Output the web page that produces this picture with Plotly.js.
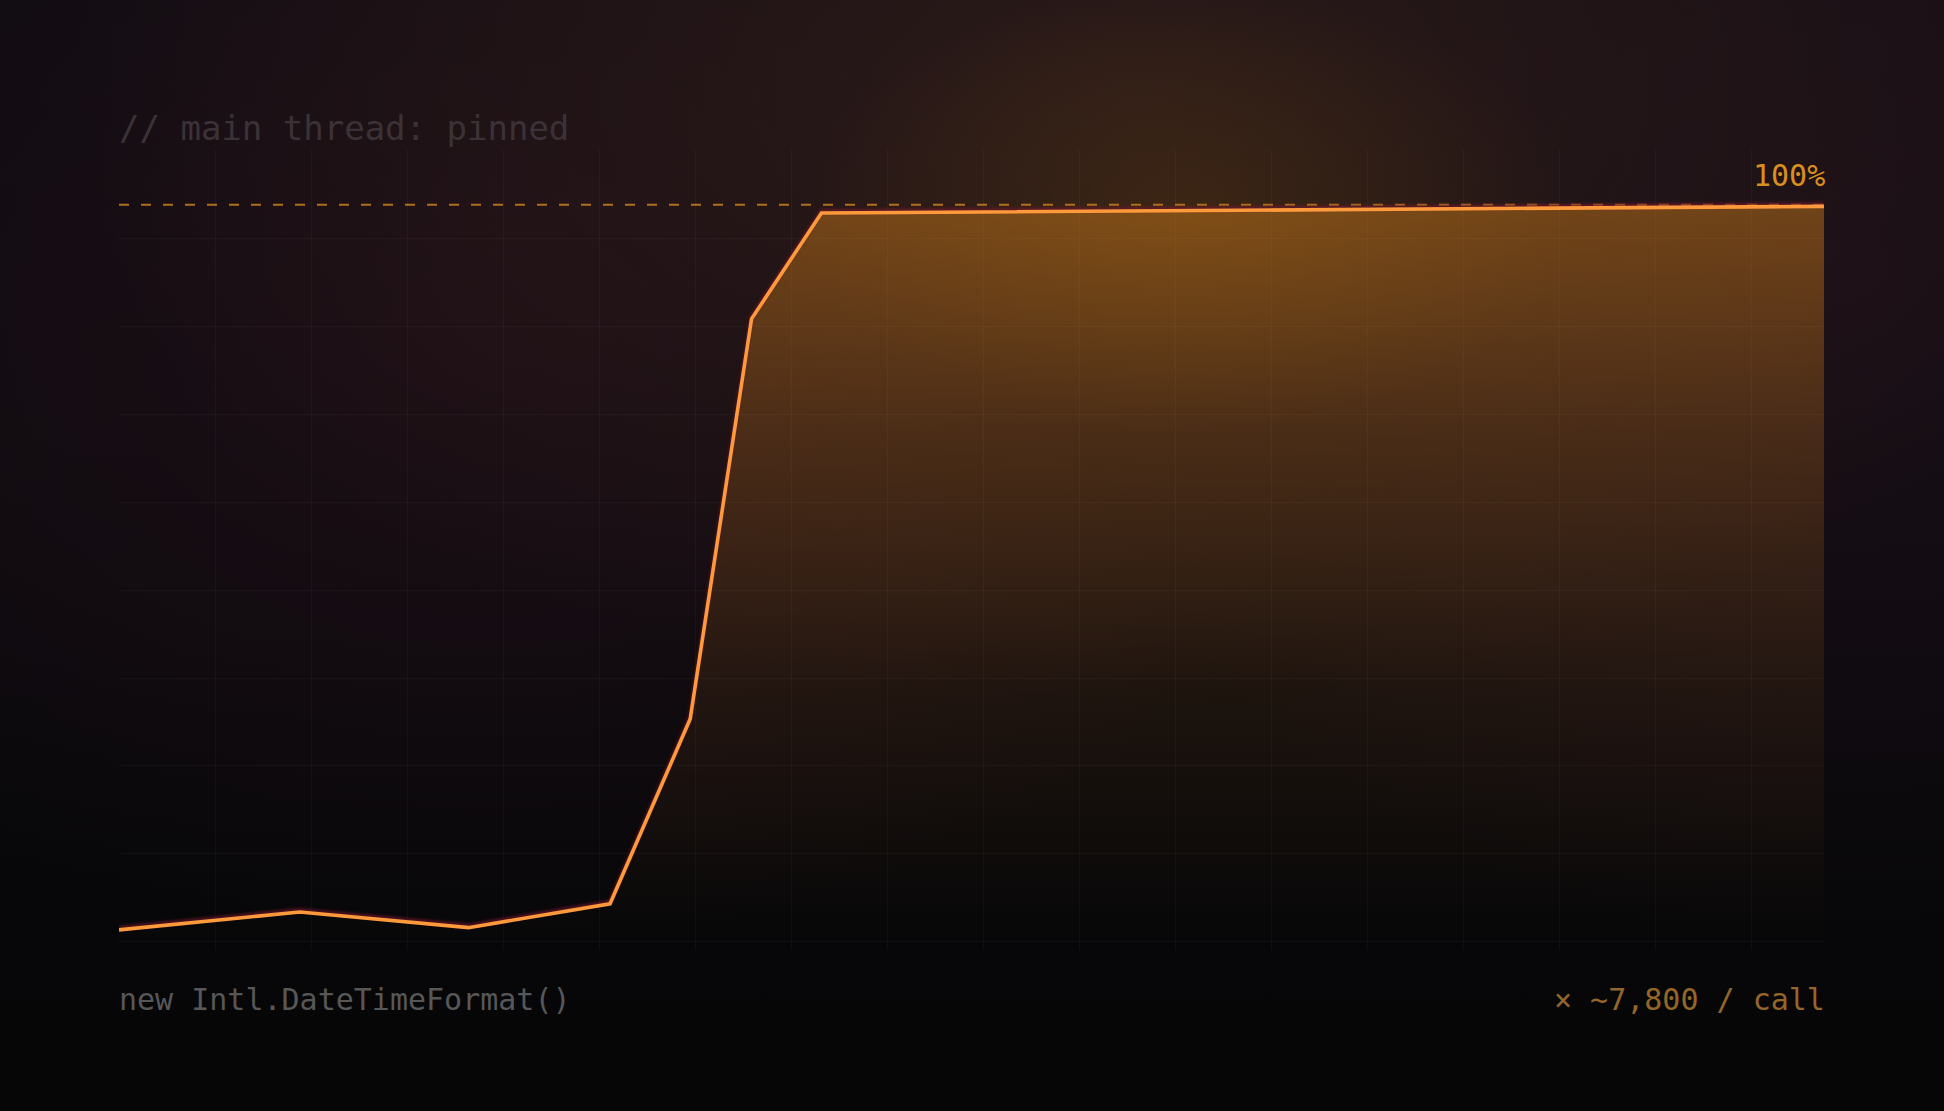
<!DOCTYPE html>
<html>
<head>
<meta charset="utf-8">
<script src="https://cdn.plot.ly/plotly-3.0.1.min.js"></script>
<style>
  html, body {
    margin: 0;
    padding: 0;
    width: 1944px;
    height: 1111px;
    overflow: hidden;
  }
  body {
    background:
      radial-gradient(ellipse 20% 20% at 61% 19%, rgba(120, 78, 12, 0.26), rgba(120, 78, 12, 0) 100%),
      radial-gradient(ellipse 55% 55% at 58% 8%, rgba(50, 30, 26, 0.8), rgba(50, 30, 26, 0) 100%),
      radial-gradient(ellipse 45% 55% at 25% 30%, rgba(34, 16, 24, 0.7), rgba(34, 16, 24, 0) 100%),
      radial-gradient(ellipse 40% 60% at 95% 25%, rgba(30, 16, 26, 0.7), rgba(30, 16, 26, 0) 100%),
      linear-gradient(180deg, #0f0c12 0%, #0c0a0e 55%, #070709 80%, #060607 100%);
  }
  #chart { width: 1944px; height: 1111px; }
  #chart .scatterlayer .js-line {
    filter: drop-shadow(0 -2px 1.5px rgba(120, 25, 45, 0.75));
  }
</style>
</head>
<body>
<div id="chart"></div>
<script>
// share of time the main thread is busy, sampled across the run
var t = [0, 10.6, 20.5, 28.8, 33.5, 37.1, 41.2, 100];
var busy = [2.7, 5.1, 3.0, 6.2, 31.0, 84.7, 98.9, 99.8];
var ceiling = 100;

var trace = {
  x: t,
  y: busy,
  type: 'scatter',
  mode: 'lines',
  line: { color: '#ff9a3c', width: 3.6, shape: 'linear' },
  fill: 'tozeroy',
  fillgradient: {
    type: 'vertical',
    start: 0,
    stop: 100,
    colorscale: [
      [0, 'rgba(220, 130, 30, 0.0)'],
      [0.35, 'rgba(220, 130, 30, 0.09)'],
      [0.7, 'rgba(220, 130, 30, 0.24)'],
      [1, 'rgba(225, 135, 25, 0.42)']
    ]
  },
  hoverinfo: 'skip'
};

var mono = '"DejaVu Sans Mono", "Liberation Mono", monospace';

var layout = {
  width: 1944,
  height: 1111,
  margin: { l: 119, r: 120, t: 150, b: 161 },
  paper_bgcolor: 'rgba(0,0,0,0)',
  plot_bgcolor: 'rgba(0,0,0,0)',
  showlegend: false,
  xaxis: {
    range: [0, 100],
    tick0: 0,
    dtick: 5.6305,
    showgrid: true,
    gridcolor: 'rgba(255,255,255,0.035)',
    gridwidth: 1,
    zeroline: false,
    showline: false,
    showticklabels: false,
    ticks: ''
  },
  yaxis: {
    range: [0, 107.36],
    tick0: 1.08,
    dtick: 11.807,
    showgrid: true,
    gridcolor: 'rgba(255,255,255,0.035)',
    gridwidth: 1,
    zeroline: false,
    showline: false,
    showticklabels: false,
    ticks: ''
  },
  shapes: [{
    type: 'line',
    xref: 'paper', x0: 0, x1: 1,
    yref: 'y', y0: ceiling, y1: ceiling,
    line: { color: 'rgba(200, 128, 30, 0.85)', width: 2, dash: '10px,12px' },
    layer: 'below'
  }],
  annotations: [
    {
      text: '// main thread: pinned',
      xref: 'paper', yref: 'paper',
      x: 0, y: 1.026, xanchor: 'left', yanchor: 'middle', xshift: -2, yshift: 1,
      showarrow: false,
      font: { family: mono, size: 34, color: '#3b3237' }
    },
    {
      text: '100%',
      xref: 'paper', yref: 'paper',
      x: 1, y: 0.968, xanchor: 'right', yanchor: 'middle', xshift: 3,
      showarrow: false,
      font: { family: mono, size: 30, color: '#d98f1e' }
    },
    {
      text: 'new Intl.DateTimeFormat()',
      xref: 'paper', yref: 'paper',
      x: 0, y: -0.0625, xanchor: 'left', yanchor: 'middle', xshift: -2, yshift: 1,
      showarrow: false,
      font: { family: mono, size: 30, color: '#575758' }
    },
    {
      text: '× ~7,800 / call',
      xref: 'paper', yref: 'paper',
      x: 1, y: -0.0625, xanchor: 'right', yanchor: 'middle', xshift: 3, yshift: 1,
      showarrow: false,
      font: { family: mono, size: 30, color: '#946629' }
    }
  ]
};

Plotly.newPlot('chart', [trace], layout, { displayModeBar: false, staticPlot: true });
</script>
</body>
</html>
